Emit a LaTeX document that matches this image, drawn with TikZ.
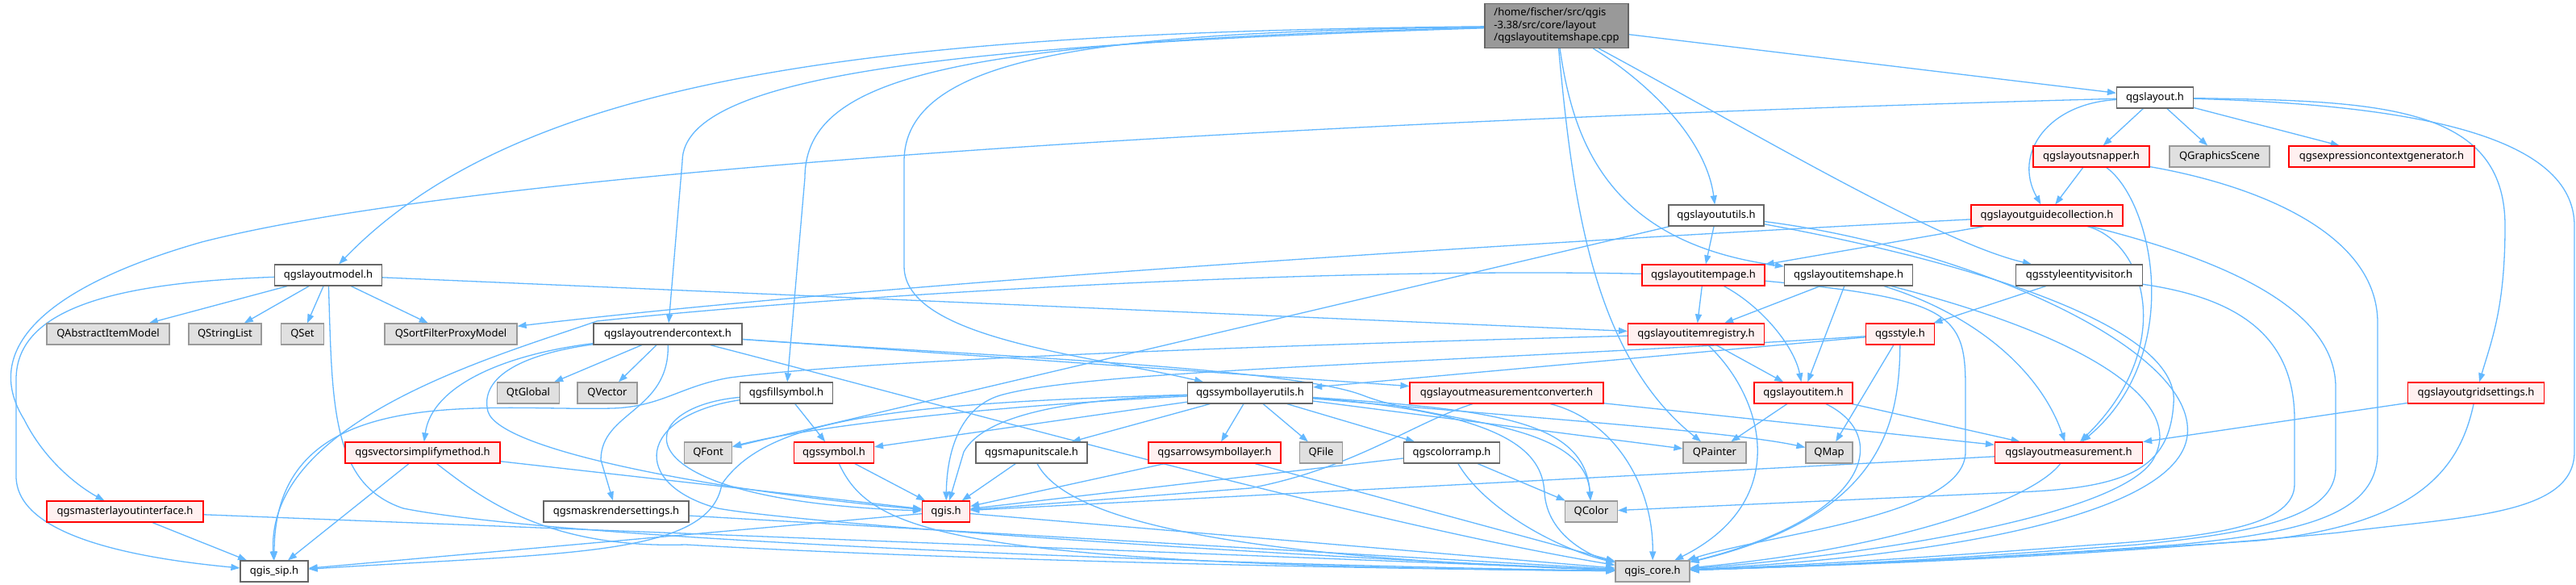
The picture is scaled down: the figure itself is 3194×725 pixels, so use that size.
\documentclass[tikz,border=0pt]{standalone}
\usepackage{fontspec}
\setmainfont{Noto Sans}
\usetikzlibrary{arrows.meta}
\definecolor{edgec}{HTML}{63B8FF}
\definecolor{greyforty}{HTML}{666666}
\definecolor{greysixty}{HTML}{999999}
\definecolor{greyfill}{HTML}{E0E0E0}
\definecolor{pinkfill}{HTML}{FFF0F0}
\definecolor{redborder}{HTML}{FF0000}
\pgfdeclarelayer{bg}
\pgfsetlayers{bg,main}
\begin{document}
\begin{tikzpicture}[x=1pt,y=-1pt,
  wn/.style={draw=greyforty, fill=white, line width=1.2pt, minimum height=26pt, inner sep=0pt,
     font=\fontsize{13}{15.5}\selectfont},
  gn/.style={wn, draw=greysixty, fill=greyfill},
  rn/.style={wn, draw=redborder, fill=pinkfill},
  e/.style={draw=edgec, line width=1.3pt, -{Triangle[length=11pt,width=8pt]}}]
\useasboundingbox (0,0) rectangle (3194,725);
\begin{pgfonlayer}{bg}
\fill[white] (0,0) rectangle (3194,725);
\end{pgfonlayer}
% nodes
\node[wn, fill=greysixty, minimum width=178pt, minimum height=55pt, align=left] (cpp) at (1930,32) {/home/fischer/src/qgis\\-3.38/src/core/layout\\/qgslayoutitemshape.cpp};
\node[wn, minimum width=95pt] (layout) at (2672,121) {qgslayout.h};
\node[rn, minimum width=144pt] (snapper) at (2593,194) {qgslayoutsnapper.h};
\node[gn, minimum width=124pt] (qgs) at (2752,194) {QGraphicsScene};
\node[rn, minimum width=230pt] (ecg) at (2953,194) {qgsexpressioncontextgenerator.h};
\node[wn, minimum width=118pt] (utils) at (2128,267) {qgslayoututils.h};
\node[rn, minimum width=188pt] (guide) at (2538,267) {qgslayoutguidecollection.h};
\node[wn, minimum width=133pt] (model) at (407,341) {qgslayoutmodel.h};
\node[rn, minimum width=152pt] (page) at (2112,341) {qgslayoutitempage.h};
\node[wn, minimum width=159pt] (shape) at (2292,341) {qgslayoutitemshape.h};
\node[wn, minimum width=157pt] (sev) at (2578,341) {qgsstyleentityvisitor.h};
\node[gn, minimum width=152pt] (QAIM) at (134,414) {QAbstractItemModel};
\node[gn, minimum width=90pt] (QSL) at (279,414) {QStringList};
\node[gn, minimum width=53pt] (QSet) at (375,414) {QSet};
\node[gn, minimum width=164pt] (QSFPM) at (559,414) {QSortFilterProxyModel};
\node[wn, minimum width=184pt] (rctx) at (828,414) {qgslayoutrendercontext.h};
\node[rn, minimum width=169pt] (reg) at (2103,414) {qgslayoutitemregistry.h};
\node[rn, minimum width=85pt] (style) at (2356,414) {qgsstyle.h};
\node[gn, minimum width=77pt] (QtGlobal) at (655,487) {QtGlobal};
\node[gn, minimum width=74pt] (QVector) at (753,487) {QVector};
\node[wn, minimum width=115pt] (fill) at (975,487) {qgsfillsymbol.h};
\node[wn, minimum width=155pt] (slu) at (1550,487) {qgssymbollayerutils.h};
\node[rn, minimum width=240pt] (mconv) at (1868,487) {qgslayoutmeasurementconverter.h};
\node[rn, minimum width=122pt] (item) at (2236,487) {qgslayoutitem.h};
\node[rn, minimum width=169pt] (grid) at (3070,487) {qgslayoutgridsettings.h};
\node[rn, minimum width=192pt] (vsm) at (524,561) {qgsvectorsimplifymethod.h};
\node[gn, minimum width=59pt] (QFont) at (878,561) {QFont};
\node[rn, minimum width=99pt] (symbol) at (1034,561) {qgssymbol.h};
\node[wn, minimum width=138pt] (mus) at (1279,561) {qgsmapunitscale.h};
\node[rn, minimum width=164pt] (arrow) at (1506,561) {qgsarrowsymbollayer.h};
\node[gn, minimum width=53pt] (QFile) at (1638,561) {QFile};
\node[wn, minimum width=119pt] (cramp) at (1800,561) {qgscolorramp.h};
\node[gn, minimum width=78pt] (QPainter) at (2126,561) {QPainter};
\node[gn, minimum width=58pt] (QMap) at (2268,561) {QMap};
\node[rn, minimum width=183pt] (meas) at (2565,561) {qgslayoutmeasurement.h};
\node[rn, minimum width=194pt] (mli) at (155,634) {qgsmasterlayoutinterface.h};
\node[wn, minimum width=180pt] (mrs) at (764,634) {qgsmaskrendersettings.h};
\node[rn, minimum width=59pt] (qgis) at (1173,634) {qgis.h};
\node[gn, minimum width=65pt] (QColor) at (1973,634) {QColor};
\node[wn, minimum width=84pt] (sip) at (340,708) {qgis\_sip.h};
\node[gn, minimum width=92pt] (core) at (2049,708) {qgis\_core.h};
% edges
\begin{pgfonlayer}{bg}
% cpp
\draw[e] (cpp) -- (layout);
\draw[e] (cpp) .. controls (1100,40) and (650,90) .. (model);
\draw[e] (cpp) .. controls (1200,55) and (846,90) .. (846,200) -- (rctx);
\draw[e] (cpp) .. controls (1200,50) and (998,90) .. (998,220) -- (fill);
\draw[e] (cpp) .. controls (1400,40) and (1121,60) .. (1121,200) -- (1121,330) .. controls (1121,420) and (1350,440) .. (slu);
\draw[e] (cpp) .. controls (2040,100) and (2115,170) .. (utils);
\draw[e] (cpp) .. controls (1950,170) and (1990,300) .. (shape);
\draw[e] (cpp) .. controls (2150,150) and (2400,300) .. (sev);
\draw[e] (cpp) .. controls (1950,250) and (1975,440) .. (QPainter);
% layout
\draw[e] (layout) .. controls (1600,150) and (600,210) .. (250,300) .. controls (40,360) and (-20,440) .. (30,520) .. controls (60,580) and (110,610) .. (mli);
\draw[e] (layout) -- (snapper);
\draw[e] (layout) -- (qgs);
\draw[e] (layout) -- (ecg);
\draw[e] (layout) .. controls (2540,128) and (2495,190) .. (guide);
\draw[e] (layout) .. controls (2950,125) and (3106,130) .. (3106,280) .. controls (3106,380) and (3090,420) .. (grid);
\draw[e] (layout) .. controls (3000,130) and (3192,170) .. (3192,280) -- (3192,560) .. controls (3192,640) and (3050,640) .. (2900,660) .. controls (2600,690) and (2300,700) .. (core);
% snapper
\draw[e] (snapper) -- (guide);
\draw[e] (snapper) .. controls (2670,250) and (2710,440) .. (meas);
\draw[e] (snapper) .. controls (2800,230) and (2948,290) .. (2948,400) -- (2948,560) .. controls (2948,640) and (2850,660) .. (2700,675) .. controls (2500,690) and (2300,700) .. (core);
% guide
\draw[e] (guide) -- (page);
\draw[e] (guide) .. controls (1900,300) and (1100,350) .. (QSFPM);
\draw[e] (guide) .. controls (2660,300) and (2700,430) .. (meas);
\draw[e] (guide) .. controls (2750,320) and (2896,380) .. (2896,480) -- (2896,580) .. controls (2896,640) and (2800,660) .. (2650,675) .. controls (2450,690) and (2300,700) .. (core);
% utils
\draw[e] (utils) -- (page);
\draw[e] (utils) -- (QFont);
\draw[e] (utils) .. controls (2420,320) and (2705,400) .. (2695,500) .. controls (2690,580) and (2640,605) .. (2500,610) -- (QColor);
\draw[e] (utils) .. controls (2430,305) and (2725,430) .. (2712,540) .. controls (2700,640) and (2400,690) .. (core);
% sev
\draw[e] (sev) -- (style);
\draw[e] (sev) .. controls (2780,370) and (2845,420) .. (2845,520) -- (2845,600) .. controls (2845,650) and (2750,665) .. (2600,675) .. controls (2400,690) and (2250,700) .. (core);
% page
\draw[e] (page) -- (reg);
\draw[e] (page) .. controls (2185,380) and (2225,430) .. (item);
\draw[e] (page) .. controls (2420,370) and (2437,390) .. (2437,480) -- (2437,560) .. controls (2437,640) and (2200,660) .. (core);
\draw[e] (page) .. controls (1600,330) and (1000,370) .. (740,398) .. controls (620,440) and (330,520) .. (sip);
% reg
\draw[e] (reg) -- (item);
\draw[e] (reg) .. controls (2185,490) and (2225,620) .. (core);
\draw[e] (reg) .. controls (1500,430) and (1060,448) .. (905,468) .. controls (845,478) and (820,504) .. (760,506) .. controls (600,510) and (340,470) .. (sip);
% item
\draw[e] (item) -- (QPainter);
\draw[e] (item) -- (meas);
\draw[e] (item) .. controls (2345,540) and (2320,640) .. (core);
% shape
\draw[e] (shape) -- (reg);
\draw[e] (shape) -- (item);
\draw[e] (shape) .. controls (2450,390) and (2530,460) .. (meas);
\draw[e] (shape) .. controls (2600,420) and (2705,500) .. (2672,565) .. controls (2640,640) and (2300,690) .. (core);
% style
\draw[e] (style) -- (QMap);
\draw[e] (style) .. controls (2355,530) and (2330,640) .. (core);
\draw[e] (style) -- (slu);
\draw[e] (style) .. controls (1800,450) and (1350,458) .. (1240,490) .. controls (1190,505) and (1174,560) .. (qgis);
% slu
\draw[e] (slu) -- (arrow);
\draw[e] (slu) -- (QFile);
\draw[e] (slu) -- (cramp);
\draw[e] (slu) -- (mus);
\draw[e] (slu) -- (symbol);
\draw[e] (slu) .. controls (1200,505) and (1000,530) .. (QFont);
\draw[e] (slu) .. controls (1320,495) and (1220,515) .. (1195,560) -- (qgis);
\draw[e] (slu) .. controls (1100,500) and (950,520) .. (895,600) .. controls (880,690) and (700,685) .. (sip);
\draw[e] (slu) -- (QPainter);
\draw[e] (slu) .. controls (1900,518) and (2150,535) .. (QMap);
\draw[e] (slu) .. controls (1850,508) and (1965,520) .. (QColor);
\draw[e] (slu) .. controls (1870,512) and (1912,560) .. (1915,610) .. controls (1918,665) and (1975,690) .. (core);
% arrow, mus, symbol
\draw[e] (arrow) -- (qgis);
\draw[e] (arrow) -- (core);
\draw[e] (mus) -- (qgis);
\draw[e] (mus) .. controls (1320,640) and (1500,690) .. (core);
\draw[e] (symbol) -- (qgis);
\draw[e] (symbol) .. controls (1080,660) and (1180,700) .. (core);
% fill
\draw[e] (fill) -- (symbol);
\draw[e] (fill) .. controls (780,505) and (760,620) .. (qgis);
\draw[e] (fill) .. controls (790,515) and (780,600) .. (890,630) .. controls (1000,650) and (1600,690) .. (core);
% cramp
\draw[e] (cramp) -- (QColor);
\draw[e] (cramp) -- (qgis);
\draw[e] (cramp) .. controls (1840,630) and (1930,680) .. (core);
% mconv
\draw[e] (mconv) .. controls (1750,525) and (1680,580) .. (1550,605) -- (qgis);
\draw[e] (mconv) .. controls (2000,520) and (2050,600) .. (core);
\draw[e] (mconv) -- (meas);
% meas, grid
\draw[e] (meas) -- (qgis);
\draw[e] (meas) .. controls (2520,620) and (2350,680) .. (core);
\draw[e] (grid) -- (meas);
\draw[e] (grid) .. controls (3050,580) and (3000,650) .. (2800,670) .. controls (2500,690) and (2300,700) .. (core);
% model
\draw[e] (model) -- (QAIM);
\draw[e] (model) -- (QSL);
\draw[e] (model) -- (QSet);
\draw[e] (model) -- (QSFPM);
\draw[e] (model) -- (reg);
\draw[e] (model) .. controls (150,350) and (20,380) .. (20,470) -- (20,590) .. controls (20,660) and (150,690) .. (sip);
\draw[e] (model) .. controls (412,500) and (410,600) .. (500,630) .. controls (700,670) and (1500,700) .. (core);
% mli, vsm, mrs, qgis
\draw[e] (mli) -- (sip);
\draw[e] (mli) -- (core);
\draw[e] (vsm) -- (sip);
\draw[e] (vsm) -- (qgis);
\draw[e] (vsm) .. controls (600,620) and (680,680) .. (850,675) .. controls (1200,695) and (1700,705) .. (core);
\draw[e] (mrs) -- (core);
\draw[e] (qgis) -- (sip);
\draw[e] (qgis) -- (core);
% rctx
\draw[e] (rctx) -- (QtGlobal);
\draw[e] (rctx) -- (QVector);
\draw[e] (rctx) .. controls (620,440) and (535,480) .. (vsm);
\draw[e] (rctx) .. controls (830,510) and (745,510) .. (745,570) -- (mrs);
\draw[e] (rctx) .. controls (640,440) and (595,470) .. (605,510) .. controls (620,560) and (900,610) .. (qgis);
\draw[e] (rctx) -- (mconv);
\draw[e] (rctx) .. controls (1200,440) and (1600,455) .. (1690,490) .. controls (1780,525) and (1965,520) .. (QColor);
\draw[e] (rctx) .. controls (1200,510) and (1700,650) .. (core);
\end{pgfonlayer}
\end{tikzpicture}
\end{document}
